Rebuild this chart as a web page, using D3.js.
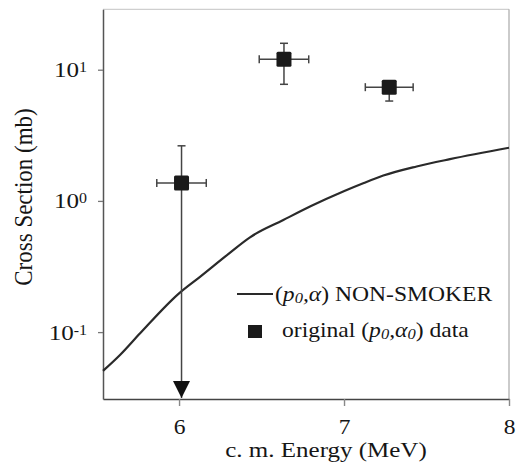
<!DOCTYPE html>
<html>
<head>
<meta charset="utf-8">
<script src="https://cdn.jsdelivr.net/npm/d3@7/dist/d3.min.js"></script>
<style>
  html, body { margin: 0; padding: 0; background: #fff; }
  svg { display: block; }
</style>
</head>
<body>
<svg id="chart" width="523" height="465"></svg>
<script>
// ---- Data ----
const curveEnergy = [5.539, 5.642, 5.764, 6.0, 6.127, 6.3, 6.43, 6.632, 6.8, 7.002, 7.12, 7.238, 7.44, 7.642, 8.0];
const curveSigma  = [0.0506, 0.0669, 0.098, 0.1976, 0.264, 0.395, 0.528, 0.715, 0.914, 1.19, 1.37, 1.56, 1.83, 2.08, 2.54];

const dataEnergy = [6.015, 6.636, 7.274];
const dataSigma  = [1.37, 12.0, 7.36];
const dataSigmaHigh = [2.63, 15.9, 8.0];
const dataSigmaLow  = [null, 7.74, 5.77];   // null = upper limit (arrow)
const dataEnergyErr = [0.15, 0.15, 0.145];

const xTicks = [6, 7, 8];
const yTicks = [0.1, 1, 10];
const yTickExp = ["-1", "0", "1"];

const xTitle = "c. m. Energy (MeV)";
const yTitle = "Cross Section (mb)";

// ---- Layout ----
const FONT = "'Liberation Serif', 'Times New Roman', Tinos, Times, serif";
const svg = d3.select("#chart").style("font-family", FONT);
const L = 103, R = 509, T = 9.3, B = 399;
const x = d3.scaleLinear().domain([5.539, 8.0]).range([L, R]);
const y = d3.scaleLog().domain([0.03091, 28.87]).range([B, T]);
const ink = "#2a2a2a";

function txt(sel, size) {
  return sel.style("font-family", FONT).style("font-size", size + "px")
    .attr("fill", "#151515");
}

// frame top/right (light)
svg.append("line").attr("x1", L).attr("x2", R).attr("y1", T).attr("y2", T)
  .attr("stroke", "#c4c4c4").attr("stroke-width", 1);
svg.append("line").attr("x1", R).attr("x2", R).attr("y1", T).attr("y2", B)
  .attr("stroke", "#a8a8a8").attr("stroke-width", 1.2);

// x axis
const xAxis = svg.append("g").attr("transform", `translate(0,${B})`)
  .call(d3.axisBottom(x).tickValues(xTicks).tickSize(7).tickSizeOuter(0).tickFormat(d3.format("d")));
xAxis.attr("font-family", null);
xAxis.select(".domain").attr("stroke", "#444").attr("stroke-width", 1.6);
xAxis.selectAll(".tick line").attr("stroke", "#888").attr("stroke-width", 1.4);
txt(xAxis.selectAll(".tick text")
  .attr("y", null).attr("dy", null)
  .attr("transform", "translate(0,35) scale(1.12,1)")
  .attr("text-anchor", "middle"), 21);

// y axis
const yAxis = svg.append("g").attr("transform", `translate(${L},0)`)
  .call(d3.axisLeft(y).tickValues(yTicks).tickSize(5).tickSizeOuter(0).tickFormat(() => ""));
yAxis.attr("font-family", null);
yAxis.select(".domain").attr("stroke", "#555").attr("stroke-width", 1.5);
yAxis.selectAll(".tick line").attr("stroke", "#777").attr("stroke-width", 1.3);
yAxis.selectAll(".tick text").each(function(d, i) {
  const t = d3.select(this);
  t.attr("x", null).attr("dy", null)
   .attr("text-anchor", "end")
   .attr("transform", "translate(-16,7) scale(1.14,1)");
  txt(t, 22);
  t.text(null);
  t.append("tspan").text("10");
  t.append("tspan").attr("dy", -5).style("font-size", "14px").text(yTickExp[i]);
});

// axis titles
txt(svg.append("text").attr("transform", "translate(326,457) scale(1.25,1)")
  .attr("text-anchor", "middle"), 20).text(xTitle);
txt(svg.append("text").attr("transform", "translate(32,197) rotate(-90) scale(1,1.1)")
  .attr("text-anchor", "middle"), 23).text(yTitle);

// model curve
const line = d3.line().x(d => x(d[0])).y(d => y(d[1])).curve(d3.curveMonotoneX);
svg.append("path").datum(curveEnergy.map((e, i) => [e, curveSigma[i]]))
  .attr("d", line).attr("fill", "none").attr("stroke", ink).attr("stroke-width", 2.2);

// data points
const pts = dataEnergy.map((e, i) => ({
  e, s: dataSigma[i], hi: dataSigmaHigh[i], lo: dataSigmaLow[i], de: dataEnergyErr[i]
}));
const errCol = "#444", cap = 4;
const g = svg.append("g");
pts.forEach(p => {
  const cx = x(p.e), cy = y(p.s);
  const yTop = y(p.hi);
  const yBot = p.lo === null ? B - 1 : y(p.lo);
  g.append("line").attr("x1", cx).attr("x2", cx).attr("y1", yTop).attr("y2", yBot)
    .attr("stroke", errCol).attr("stroke-width", 1.5);
  g.append("line").attr("x1", cx - cap).attr("x2", cx + cap).attr("y1", yTop).attr("y2", yTop)
    .attr("stroke", errCol).attr("stroke-width", 1.5);
  if (p.lo !== null) {
    g.append("line").attr("x1", cx - cap).attr("x2", cx + cap).attr("y1", yBot).attr("y2", yBot)
      .attr("stroke", errCol).attr("stroke-width", 1.5);
  } else {
    g.append("path")
      .attr("d", `M${cx - 8.5},${B - 18} L${cx + 8.5},${B - 18} L${cx},${B - 1} Z`)
      .attr("fill", "#111");
  }
  const xl = x(p.e - p.de), xr = x(p.e + p.de);
  g.append("line").attr("x1", xl).attr("x2", xr).attr("y1", cy).attr("y2", cy)
    .attr("stroke", errCol).attr("stroke-width", 1.5);
  [xl, xr].forEach(xx => g.append("line").attr("x1", xx).attr("x2", xx)
    .attr("y1", cy - cap).attr("y2", cy + cap).attr("stroke", errCol).attr("stroke-width", 1.5));
  g.append("rect").attr("x", cx - 7.5).attr("y", cy - 7.5).attr("width", 15).attr("height", 15)
    .attr("rx", 1.5).attr("fill", "#1a1a1a");
});

// legend
svg.append("line").attr("x1", 237).attr("x2", 273).attr("y1", 294).attr("y2", 294)
  .attr("stroke", ink).attr("stroke-width", 2.2);
const l1 = txt(svg.append("text").attr("transform", "translate(275,301) scale(1.18,1)"), 20);
l1.append("tspan").text("(");
l1.append("tspan").style("font-style", "italic").text("p");
l1.append("tspan").style("font-style", "italic").style("font-size", "14px").attr("dy", 2).text("0");
l1.append("tspan").style("font-style", "italic").attr("dy", -2).text(",α");
l1.append("tspan").text(") NON-SMOKER");

svg.append("rect").attr("x", 248).attr("y", 325).attr("width", 14).attr("height", 13).attr("fill", "#1a1a1a");
const l2 = txt(svg.append("text").attr("transform", "translate(282,337) scale(1.18,1)"), 20);
l2.append("tspan").text("original (");
l2.append("tspan").style("font-style", "italic").text("p");
l2.append("tspan").style("font-style", "italic").style("font-size", "14px").attr("dy", 2).text("0");
l2.append("tspan").style("font-style", "italic").attr("dy", -2).text(",α");
l2.append("tspan").style("font-style", "italic").style("font-size", "14px").attr("dy", 2).text("0");
l2.append("tspan").attr("dy", -2).text(") data");
</script>
</body>
</html>
